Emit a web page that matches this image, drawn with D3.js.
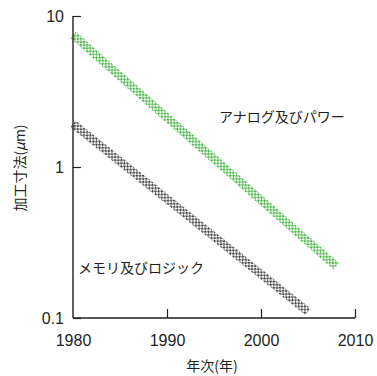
<!DOCTYPE html>
<html>
<head>
<meta charset="utf-8">
<script src="https://cdn.jsdelivr.net/npm/d3@7"></script>
<style>
  body { margin: 0; background: #fff; }
  text { font-family: "Liberation Sans", "Noto Sans CJK JP", sans-serif; fill: #231f20; }
  .jp { font-family: "Noto Sans CJK JP", sans-serif; }
</style>
</head>
<body>
<div id="chart"></div>
<script>
// Chart data
var xTicks = [1980, 1990, 2000, 2010];
var yTicks = [0.1, 1, 10];
var yTickLabels = ["0.1", "1", "10"];

// Analog and power band (start, end)
var analogYears = [1980, 2008];
var analogValues = [7.5, 0.22];

// Memory and logic band (start, end)
var memoryYears = [1980, 2005];
var memoryValues = [1.93, 0.11];

// Canvas
var width = 377;
var height = 376;

var svg = d3.select("#chart")
  .append("svg")
  .attr("width", width)
  .attr("height", height);

// Scales
var xScale = d3.scaleLinear().domain([1980, 2010]).range([73, 355]);
var yScale = d3.scaleLog().domain([0.1, 10]).range([318, 16]);

// Checker patterns for the bands
var defs = svg.append("defs");
function checker(id, color) {
  var p = defs.append("pattern")
    .attr("id", id)
    .attr("width", 4.4)
    .attr("height", 4.4)
    .attr("patternUnits", "userSpaceOnUse")
    .attr("patternTransform", "rotate(45)");
  p.append("rect").attr("width", 4.4).attr("height", 4.4).attr("fill", "#fff");
  p.append("rect").attr("width", 2.2).attr("height", 2.2).attr("fill", color);
  p.append("rect").attr("x", 2.2).attr("y", 2.2).attr("width", 2.2).attr("height", 2.2).attr("fill", color);
}
checker("greenCheck", "#4cb848");
checker("greyCheck", "#4d4d4d");

// Bands
var line = d3.line()
  .x(function(d) { return xScale(d[0]); })
  .y(function(d) { return yScale(d[1]); });

svg.append("path")
  .datum(d3.zip(analogYears, analogValues))
  .attr("d", line)
  .attr("fill", "none")
  .attr("stroke", "url(#greenCheck)")
  .attr("stroke-width", 8.5);

svg.append("path")
  .datum(d3.zip(memoryYears, memoryValues))
  .attr("d", line)
  .attr("fill", "none")
  .attr("stroke", "url(#greyCheck)")
  .attr("stroke-width", 8.5);

// Axes (ticks point inward)
var xAxis = d3.axisBottom(xScale)
  .tickValues(xTicks)
  .tickSize(-9)
  .tickPadding(17)
  .tickFormat(d3.format("d"));

var yAxis = d3.axisLeft(yScale)
  .tickValues(yTicks)
  .tickSize(-8)
  .tickPadding(9)
  .tickFormat(function(d, i) { return yTickLabels[i]; });

var gx = svg.append("g")
  .attr("transform", "translate(0," + yScale(0.1) + ")")
  .call(xAxis);

var gy = svg.append("g")
  .attr("transform", "translate(" + xScale(1980) + ",0)")
  .call(yAxis);

[gx, gy].forEach(function(g) {
  g.select(".domain").attr("stroke", "#231f20").attr("stroke-width", 1.4)
    .attr("d", g === gx ? "M73,0H355" : "M0,16V318");
  g.selectAll(".tick line").attr("stroke", "#231f20").attr("stroke-width", 1.2);
  g.selectAll(".tick text")
    .attr("font-size", 16)
    .attr("fill", "#231f20")
    .style("font-family", "Liberation Sans, sans-serif");
});
gx.selectAll(".tick").filter(function(d) { return d === 1980; }).select("line").remove();

// Labels
svg.append("text")
  .attr("class", "jp")
  .attr("x", 219)
  .attr("y", 122)
  .attr("font-size", 14)
  .text("アナログ及びパワー");

svg.append("text")
  .attr("class", "jp")
  .attr("x", 78)
  .attr("y", 273)
  .attr("font-size", 14)
  .text("メモリ及びロジック");

// Axis titles
svg.append("text")
  .attr("class", "jp")
  .attr("x", 212)
  .attr("y", 371)
  .attr("text-anchor", "middle")
  .attr("font-size", 14)
  .text("年次(年)");

var yTitle = svg.append("text")
  .attr("class", "jp")
  .attr("transform", "translate(25,168)rotate(-90)")
  .attr("text-anchor", "middle")
  .attr("font-size", 14);
yTitle.append("tspan").text("加工寸法(");
yTitle.append("tspan").attr("font-style", "italic").text("μ");
yTitle.append("tspan").text("m)");
</script>
</body>
</html>
